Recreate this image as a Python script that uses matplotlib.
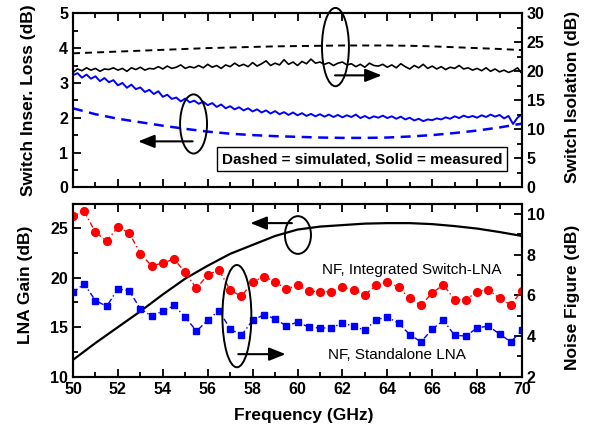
import numpy as np
import matplotlib
matplotlib.use('Agg')
import matplotlib.pyplot as plt
from matplotlib.patches import Ellipse
from matplotlib.ticker import MultipleLocator

plt.rcParams['font.family'] = ['Liberation Sans', 'DejaVu Sans']

# ---------------- data ----------------
# Simulated switch curves (1 GHz grid)
freq_sim = [50, 51, 52, 53, 54, 55, 56, 57, 58, 59, 60,
            61, 62, 63, 64, 65, 66, 67, 68, 69, 70]
il_sim = [2.27, 2.10, 1.97, 1.87, 1.77, 1.68, 1.60, 1.54, 1.50, 1.47, 1.45,
          1.43, 1.42, 1.42, 1.43, 1.46, 1.50, 1.56, 1.63, 1.72, 1.83]
iso_sim = [23.1, 23.25, 23.4, 23.55, 23.7, 23.85, 24.0, 24.1, 24.2, 24.3, 24.35,
           24.4, 24.45, 24.45, 24.45, 24.4, 24.3, 24.15, 24.0, 23.85, 23.65]

# Measured switch curves (0.2 GHz grid)
freq_meas = [round(50 + 0.2 * i, 1) for i in range(101)]
il_meas = [3.22, 3.28, 3.15, 3.24, 3.12, 3.19, 3.05, 3.14, 3.02, 3.08,
           2.93, 3.00, 2.86, 2.95, 2.82, 2.87, 2.74, 2.80, 2.68, 2.76,
           2.60, 2.66, 2.54, 2.58, 2.47, 2.55, 2.44, 2.49, 2.40, 2.46,
           2.36, 2.42, 2.31, 2.38, 2.27, 2.33, 2.24, 2.30, 2.21, 2.27,
           2.18, 2.24, 2.15, 2.21, 2.12, 2.19, 2.10, 2.16, 2.08, 2.15,
           2.07, 2.13, 2.05, 2.11, 2.04, 2.10, 2.03, 2.09, 2.02, 2.08,
           2.01, 2.07, 2.02, 2.09, 1.99, 2.05, 1.98, 2.04, 2.00, 2.06,
           1.99, 2.04, 1.97, 2.03, 1.95, 2.00, 1.92, 1.97, 1.90, 1.95,
           1.93, 1.98, 1.95, 2.01, 1.97, 2.04, 1.99, 2.06, 2.01, 2.05,
           2.00, 2.07, 2.02, 2.09, 2.03, 2.08, 1.98, 2.05, 1.82, 2.00,
           2.10]
iso_meas = [19.8, 20.4, 20.1, 20.6, 20.2, 20.5, 20.0, 20.4, 20.3, 20.6,
            20.2, 20.5, 20.0, 20.6, 20.3, 20.7, 20.2, 20.5, 20.4, 20.8,
            20.4, 20.9, 20.5, 20.7, 21.1, 20.5, 20.8, 20.6, 21.0, 20.6,
            21.2, 20.7, 21.0, 20.5, 21.1, 20.8, 21.4, 20.9, 21.2, 20.8,
            21.5, 20.9, 21.3, 21.8, 21.0, 21.4, 21.1, 22.0, 21.2, 21.6,
            21.0, 21.7, 21.3, 22.1, 21.4, 21.6, 21.2, 21.5, 21.0, 21.4,
            21.6, 21.1, 21.3, 20.8, 21.2, 20.7, 21.4, 21.0, 20.9, 21.2,
            20.7, 21.1, 20.6, 21.3, 20.8, 20.4, 21.0, 20.6, 21.2, 20.5,
            20.9, 20.4, 20.8, 20.3, 20.7, 20.5, 21.0, 20.4, 20.6, 20.2,
            20.5, 20.1, 20.6, 20.0, 20.4, 19.9, 20.2, 19.8, 20.1, 20.6,
            19.6]

# LNA gain (1 GHz grid)
freq_gain = freq_sim
gain = [11.7, 13.4, 15.0, 16.6, 18.3, 19.9, 21.2, 22.4, 23.3, 24.2, 24.85,
        25.15, 25.3, 25.45, 25.5, 25.5, 25.4, 25.2, 24.95, 24.6, 24.2]

# Noise figure (0.5 GHz grid)
freq_nf = [50 + 0.5 * i for i in range(41)]
nf_int = [9.89, 10.13, 9.09, 8.67, 9.35, 9.07, 8.05, 7.45, 7.58, 7.78,
          7.12, 6.34, 7.00, 7.25, 6.26, 5.95, 6.65, 6.92, 6.67, 6.30,
          6.50, 6.20, 6.18, 6.18, 6.39, 6.26, 6.02, 6.49, 6.67, 6.39,
          5.85, 5.50, 6.12, 6.51, 5.78, 5.78, 6.18, 6.28, 5.85, 5.53,
          6.23]
nf_sa = [6.15, 6.56, 5.74, 5.46, 6.31, 6.23, 5.34, 4.98, 5.22, 5.50,
         4.93, 4.24, 4.77, 5.25, 4.35, 4.03, 4.77, 5.04, 4.85, 4.49,
         4.68, 4.44, 4.39, 4.40, 4.63, 4.49, 4.28, 4.80, 4.93, 4.63,
         4.07, 3.71, 4.33, 4.77, 4.03, 4.00, 4.39, 4.49, 4.10, 3.71,
         4.28]

xticks = [50, 52, 54, 56, 58, 60, 62, 64, 66, 68, 70]

# ---------------- figure ----------------
W, H = 593, 429
fig = plt.figure(figsize=(W / 100, H / 100), dpi=100)

def ax_rect(l, t, r, b):
    return [l / W, 1 - b / H, (r - l) / W, (b - t) / H]

ax1 = fig.add_axes(ax_rect(73, 13.3, 522, 187.3))
ax1r = ax1.twinx()
ax2 = fig.add_axes(ax_rect(73, 204.3, 522, 376.7))
ax2r = ax2.twinx()

TFS = 11.5
LFS = 12.5
blue = '#0000ff'
red = '#ff0000'

# top panel
ax1.plot(freq_meas, il_meas, color=blue, lw=1.4)
ax1.plot(freq_sim, il_sim, color=blue, lw=1.8, dashes=(4, 2.6))
ax1r.plot(freq_meas, iso_meas, color='k', lw=1.2)
ax1r.plot(freq_sim, iso_sim, color='k', lw=1.4, dashes=(3.6, 2.6))

ax1.set_xlim(50, 70)
ax1.set_ylim(0, 5)
ax1r.set_ylim(0, 30)

# bottom panel
ax2.plot(freq_gain, gain, color='k', lw=1.6)
ax2r.plot(freq_nf, nf_int, color=red, lw=1.0, ls=(0, (4, 2, 1, 2)),
          marker='o', ms=5.6, mec=red, mfc=red)
ax2r.plot(freq_nf, nf_sa, color=blue, lw=1.0, ls=(0, (4, 2, 1, 2)),
          marker='s', ms=4.8, mec=blue, mfc=blue)
ax2.set_xlim(50, 70)
ax2.set_ylim(10, 27.4)
ax2r.set_ylim(2, 10.47)

# ticks
for a in (ax1, ax2):
    a.xaxis.set_major_locator(MultipleLocator(2))
    a.xaxis.set_minor_locator(MultipleLocator(1))
    a.tick_params(axis='x', which='both', direction='in', top=True, bottom=True)
    a.tick_params(axis='y', which='both', direction='in', left=True, right=False)
for a in (ax1r, ax2r):
    a.tick_params(axis='y', which='both', direction='in', right=True, left=False)
    a.tick_params(axis='x', which='both', top=False, bottom=False)

ax1.yaxis.set_major_locator(MultipleLocator(1))
ax1.yaxis.set_minor_locator(MultipleLocator(0.5))
ax1r.yaxis.set_major_locator(MultipleLocator(5))
ax1r.yaxis.set_minor_locator(MultipleLocator(2.5))
ax2.yaxis.set_major_locator(MultipleLocator(5))
ax2.yaxis.set_minor_locator(MultipleLocator(2.5))
ax2r.yaxis.set_major_locator(MultipleLocator(2))
ax2r.yaxis.set_minor_locator(MultipleLocator(1))

for a in (ax1, ax1r, ax2, ax2r):
    a.tick_params(which='major', length=6, width=1.3, labelsize=TFS)
    a.tick_params(which='minor', length=3.5, width=1.3)
    for s in a.spines.values():
        s.set_linewidth(1.5)
    for lab in a.get_yticklabels() + a.get_xticklabels():
        lab.set_fontweight('bold')

ax1.tick_params(axis='x', labelbottom=False)
ax2.set_xticks(xticks)
ax2.set_xticklabels([str(v) for v in xticks], fontweight='bold', fontsize=TFS)

# labels
ax1.set_ylabel('Switch Inser. Loss (dB)', fontsize=LFS, fontweight='bold')
ax1.yaxis.set_label_coords(-0.082, 0.5)
ax1r.set_ylabel('Switch Isolation (dB)', fontsize=LFS, fontweight='bold')
ax1r.yaxis.set_label_coords(1.096, 0.52)
ax2.set_ylabel('LNA Gain (dB)', fontsize=LFS, fontweight='bold')
ax2.yaxis.set_label_coords(-0.089, 0.535)
ax2r.set_ylabel('Noise Figure (dB)', fontsize=LFS, fontweight='bold')
ax2r.yaxis.set_label_coords(1.096, 0.46)
ax2.set_xlabel('Frequency (GHz)', fontsize=LFS, fontweight='bold')
ax2.xaxis.set_label_coords(0.514, -0.18)

# legend-like box
ax1r.text(62.87, 4.87, 'Dashed = simulated, Solid = measured', fontsize=11,
          fontweight='bold', ha='center', va='center', zorder=10,
          bbox=dict(boxstyle='square,pad=0.3', fc='white', ec='k', lw=1.0))

# annotations
arrow_kw = dict(arrowstyle='-|>,head_length=0.55,head_width=0.22', color='k',
                lw=1.5, mutation_scale=18, shrinkA=0, shrinkB=0)

ax1.add_patch(Ellipse((55.37, 1.82), 1.2, 1.7, fill=False, ec='k', lw=1.4,
                      clip_on=False, zorder=5))
ax1.annotate('', xy=(52.9, 1.32), xytext=(55.33, 1.32), arrowprops=arrow_kw,
             annotation_clip=False)

ax1r.add_patch(Ellipse((61.69, 24.18), 1.2, 13.5, fill=False, ec='k', lw=1.4,
                       clip_on=False, zorder=5))
ax1r.annotate('', xy=(63.75, 19.3), xytext=(61.67, 19.3), arrowprops=arrow_kw,
              annotation_clip=False)

ax2r.add_patch(Ellipse((60.02, 2 + (376.7 - 234) / 20.5), 1.16, 38 / 20.5,
                       fill=False, ec='k', lw=1.4, clip_on=False, zorder=5))
ax2r.annotate('', xy=(57.9, 2 + (376.7 - 222) / 20.5),
              xytext=(59.75, 2 + (376.7 - 222) / 20.5), arrowprops=arrow_kw,
              annotation_clip=False)

ax2r.add_patch(Ellipse((57.3, 2 + (376.7 - 315.7) / 20.5), 1.29, 103 / 20.5,
                       fill=False, ec='k', lw=1.4, clip_on=False, zorder=5))
ax2r.annotate('', xy=(59.47, 2 + (376.7 - 354) / 20.5),
              xytext=(57.36, 2 + (376.7 - 354) / 20.5), arrowprops=arrow_kw,
              annotation_clip=False)

ax2r.text(65.08, 2 + (376.7 - 269) / 20.5, 'NF, Integrated Switch-LNA',
          fontsize=11, ha='center', va='center')
ax2r.text(64.43, 2 + (376.7 - 355) / 20.5, 'NF, Standalone LNA',
          fontsize=11, ha='center', va='center')

fig.savefig('out.png', dpi=100)
